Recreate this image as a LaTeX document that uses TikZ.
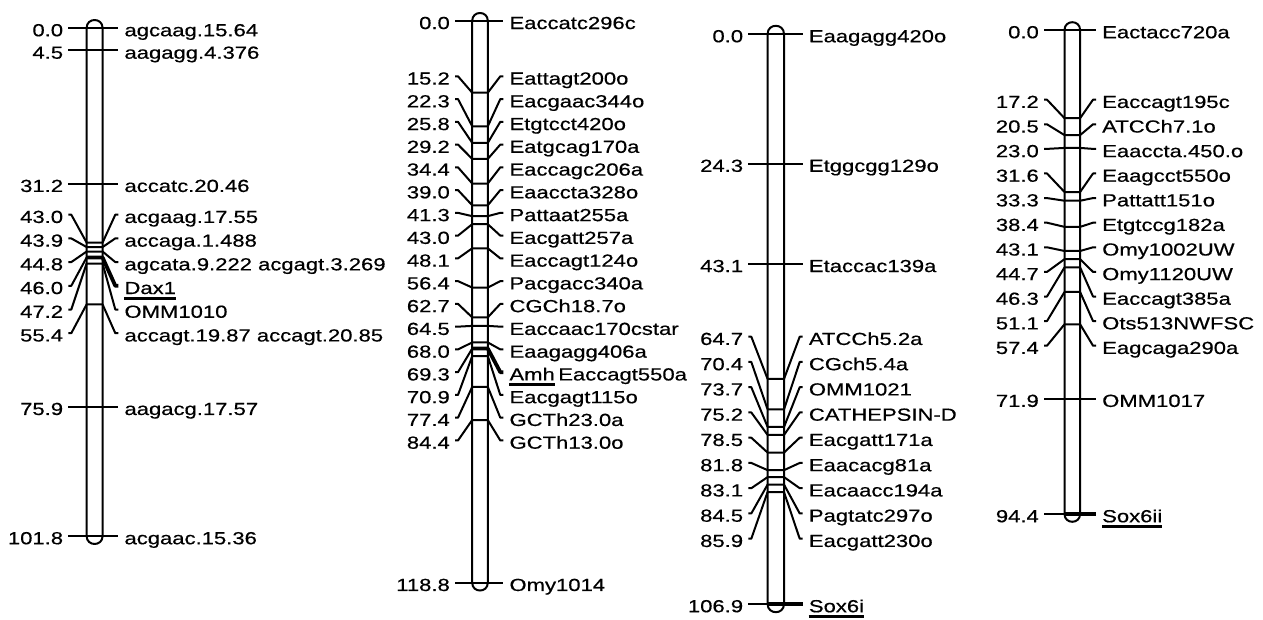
\documentclass[tikz,border=0pt]{standalone}
\usepackage{fontspec}
\setmainfont{Liberation Sans}[FakeStretch=1.26,FakeBold=0.5]
\newcommand\chrSet[8]{\def\Ccx{#1}\def\Chw{#2}\def\Cyz{#3}\def\Csc{#4}\def\Cxl{#5}\def\Cxr{#6}\def\Crz{#7}\def\Cdr{#8}}
\newcommand\chrBar[1]{%
  \pgfmathsetmacro\Cyb{\Cyz+\Csc*#1}%
  \pgfmathsetmacro\Cxa{\Ccx-\Chw}\pgfmathsetmacro\Cxb{\Ccx+\Chw}\pgfmathsetmacro\Ccc{1.333*\Chw}%
  \draw[bar] (\Cxa,\Cyz) -- (\Cxa,\Cyb) .. controls +(0,\Ccc) and +(0,\Ccc) .. (\Cxb,\Cyb) -- (\Cxb,\Cyz) .. controls +(0,-\Ccc) and +(0,-\Ccc) .. (\Cxa,\Cyz);}
\newcommand\chrS[3]{%
  \pgfmathsetmacro\Cym{\Cyz+\Csc*#2}%
  \coordinate (#1L) at (\Cxl,\Cym);
  \coordinate (#1R) at (\Cxr,\Cym);
  \draw[tk] (#1L) -- (#1R);
  \node[lab,anchor=east] (#1l) at ({\Cxl-5},{\Cym+2}) {#2};
  \node[lab,anchor=west] (#1r) at ({\Cxr+6},{\Cym+2}) {#3};}
\newcommand\chrST[3]{%
  \pgfmathsetmacro\Cym{\Cyz+\Csc*#2}%
  \coordinate (#1L) at (\Cxl,\Cym);
  \coordinate (#1b) at ({\Ccx-\Chw},\Cym);
  \coordinate (#1R) at (\Cxr,\Cym);
  \draw[tk] (#1L) -- (#1b);
  \draw[thk] (#1b) -- (#1R);
  \node[lab,anchor=east] (#1l) at ({\Cxl-5},{\Cym+2}) {#2};
  \node[lab,anchor=west] (#1r) at ({\Cxr+6},{\Cym+2}) {#3};
  \draw[ul] ([yshift=-4pt]#1r.south west) -- ([yshift=-4pt]#1r.south east);}
\newcommand\chrRow[5]{%
  \pgfmathsetmacro\Cym{\Cyz+\Csc*#2}\pgfmathsetmacro\Cyr{\Crz+\Cdr*#3}%
  \coordinate (#1L) at (\Cxl,\Cyr);
  \coordinate (#1a) at ({\Cxl+3},\Cyr);
  \coordinate (#1b) at ({\Ccx-\Chw},\Cym);
  \coordinate (#1c) at ({\Ccx+\Chw},\Cym);
  \coordinate (#1d) at ({\Cxr-3},\Cyr);
  \coordinate (#1R) at (\Cxr,\Cyr);
  \draw[tk] (#1L) -- (#1a) -- (#1b);
  \draw[#5] (#1b) -- (#1c) -- (#1d) -- (#1R);
  \node[lab,anchor=east] (#1l) at ({\Cxl-5},{\Cyr+2}) {#2};
  \node[lab,anchor=west] (#1r) at ({\Cxr+6},{\Cyr+2}) {#4};}
\begin{document}
\begin{tikzpicture}[x=1pt,y=-1pt,line join=round,
  bar/.style={line width=2pt},
  tk/.style={line width=2pt},
  thk/.style={line width=3.8pt},
  ul/.style={line width=3.4pt},
  lab/.style={inner sep=0pt,text height=12.5pt,text depth=0pt,font=\fontsize{17.5}{20}\selectfont}]
\fill[white] (0,0) rectangle (1263,620);
\useasboundingbox (0,0) rectangle (1263,620);
% ---------- chromosome 1
\chrSet{94.6}{8}{28}{4.99}{68.3}{118.3}{214.7}{23.7}
\chrBar{101.8}
\chrS{c1a}{0.0}{agcaag.15.64}
\chrS{c1b}{4.5}{aagagg.4.376}
\chrS{c1c}{31.2}{accatc.20.46}
\chrRow{c1d}{43.0}{0}{acgaag.17.55}{tk}
\chrRow{c1e}{43.9}{1}{accaga.1.488}{tk}
\chrRow{c1f}{44.8}{2}{agcata.9.222 acgagt.3.269}{tk}
\chrRow{c1g}{46.0}{3}{Dax1}{thk}
\draw[ul] ([yshift=-4pt]c1gr.south west) -- ([yshift=-4pt]c1gr.south east);
\chrRow{c1h}{47.2}{4}{OMM1010}{tk}
\chrRow{c1i}{55.4}{5}{accagt.19.87 accagt.20.85}{tk}
\chrS{c1j}{75.9}{aagacg.17.57}
\chrS{c1k}{101.8}{acgaac.15.36}
% ---------- chromosome 2
\chrSet{480}{7.8}{20.8}{4.73}{455}{503.3}{76.3}{22.76}
\chrBar{118.8}
\chrS{c2a}{0.0}{Eaccatc296c}
\chrRow{c2b}{15.2}{0}{Eattagt200o}{tk}
\chrRow{c2c}{22.3}{1}{Eacgaac344o}{tk}
\chrRow{c2d}{25.8}{2}{Etgtcct420o}{tk}
\chrRow{c2e}{29.2}{3}{Eatgcag170a}{tk}
\chrRow{c2f}{34.4}{4}{Eaccagc206a}{tk}
\chrRow{c2g}{39.0}{5}{Eaaccta328o}{tk}
\chrRow{c2h}{41.3}{6}{Pattaat255a}{tk}
\chrRow{c2i}{43.0}{7}{Eacgatt257a}{tk}
\chrRow{c2j}{48.1}{8}{Eaccagt124o}{tk}
\chrRow{c2k}{56.4}{9}{Pacgacc340a}{tk}
\chrRow{c2l}{62.7}{10}{CGCh18.7o}{tk}
\chrRow{c2m}{64.5}{11}{Eaccaac170cstar}{tk}
\chrRow{c2n}{68.0}{12}{Eaagagg406a}{tk}
\chrRow{c2o}{69.3}{13}{Amh}{thk}
\draw[ul] ([yshift=-4pt]c2or.south west) -- ([yshift=-4pt]c2or.south east);
\node[lab,anchor=west] (c2os) at ([xshift=3pt]c2or.east) {Eaccagt550a};
\chrRow{c2p}{70.9}{14}{Eacgagt115o}{tk}
\chrRow{c2q}{77.4}{15}{GCTh23.0a}{tk}
\chrRow{c2r}{84.4}{16}{GCTh13.0o}{tk}
\chrS{c2s}{118.8}{Omy1014}
% ---------- chromosome 3
\chrSet{775.8}{8.2}{34}{5.332}{748.3}{802.7}{336.7}{25.25}
\chrBar{106.9}
\chrS{c3a}{0.0}{Eaagagg420o}
\chrS{c3b}{24.3}{Etggcgg129o}
\chrS{c3c}{43.1}{Etaccac139a}
\chrRow{c3d}{64.7}{0}{ATCCh5.2a}{tk}
\chrRow{c3e}{70.4}{1}{CGch5.4a}{tk}
\chrRow{c3f}{73.7}{2}{OMM1021}{tk}
\chrRow{c3g}{75.2}{3}{CATHEPSIN-D}{tk}
\chrRow{c3h}{78.5}{4}{Eacgatt171a}{tk}
\chrRow{c3i}{81.8}{5}{Eaacacg81a}{tk}
\chrRow{c3j}{83.1}{6}{Eacaacc194a}{tk}
\chrRow{c3k}{84.5}{7}{Pagtatc297o}{tk}
\chrRow{c3l}{85.9}{8}{Eacgatt230o}{tk}
\chrST{c3m}{106.9}{Sox6i}
% ---------- chromosome 4
\chrSet{1072.3}{7.8}{30}{5.127}{1044}{1096}{99.7}{24.6}
\chrBar{94.4}
\chrS{c4a}{0.0}{Eactacc720a}
\chrRow{c4b}{17.2}{0}{Eaccagt195c}{tk}
\chrRow{c4c}{20.5}{1}{ATCCh7.1o}{tk}
\chrRow{c4d}{23.0}{2}{Eaaccta.450.o}{tk}
\chrRow{c4e}{31.6}{3}{Eaagcct550o}{tk}
\chrRow{c4f}{33.3}{4}{Pattatt151o}{tk}
\chrRow{c4g}{38.4}{5}{Etgtccg182a}{tk}
\chrRow{c4h}{43.1}{6}{Omy1002UW}{tk}
\chrRow{c4i}{44.7}{7}{Omy1120UW}{tk}
\chrRow{c4j}{46.3}{8}{Eaccagt385a}{tk}
\chrRow{c4k}{51.1}{9}{Ots513NWFSC}{tk}
\chrRow{c4l}{57.4}{10}{Eagcaga290a}{tk}
\chrS{c4m}{71.9}{OMM1017}
\chrST{c4n}{94.4}{Sox6ii}
\end{tikzpicture}
\end{document}
